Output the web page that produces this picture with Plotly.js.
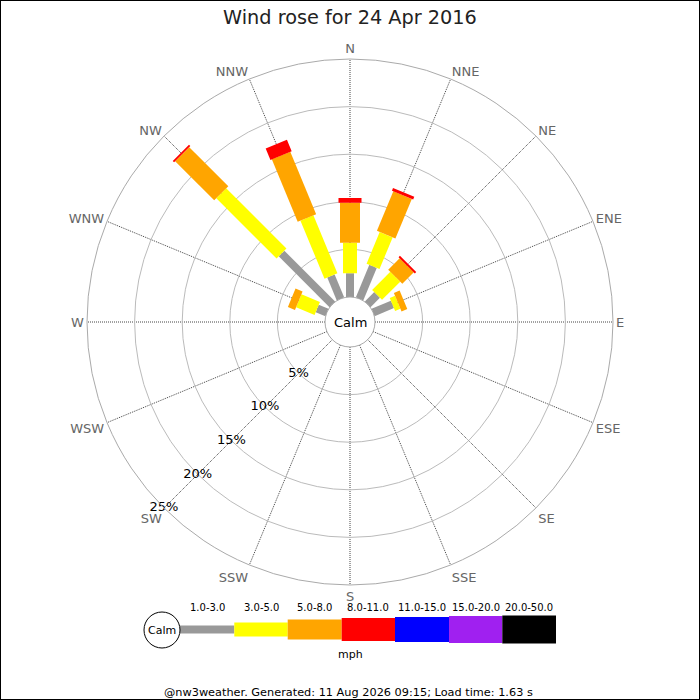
<!DOCTYPE html>
<html>
<head>
<meta charset="utf-8">
<script src="https://cdn.plot.ly/plotly-3.0.1.min.js"></script>
<style>html,body{margin:0;padding:0;background:#fff;}#chart{width:700px;height:700px;}</style>
</head>
<body>
<div id="chart"></div>
<script>
// ---- data ----
const directions = ["N","NNE","NE","ENE","E","ESE","SE","SSE","S","SSW","SW","WSW","W","WNW","NW","NNW"];
const directionAngles = [0,22.5,45,67.5,90,112.5,135,157.5,180,202.5,225,247.5,270,292.5,315,337.5];
const speedBins = ["1.0-3.0","3.0-5.0","5.0-8.0","8.0-11.0","11.0-15.0","15.0-20.0","20.0-50.0"];
// percent frequency per direction for each speed bin
const bin1to3   = [2.5, 3.7, 1.4, 2.2, 0,0,0,0,0,0,0,0,0, 1.1, 7.55, 2.6];
const bin3to5   = [3.2, 3.6, 2.7, 0.6, 0,0,0,0,0,0,0,0,0, 2.1, 8.95, 6.6];
const bin5to8   = [4.2, 4.5, 1.7, 0.65,0,0,0,0,0,0,0,0,0, 0.8, 5.8, 7.1];
const bin8to11  = [0.5, 0.3, 0.2, 0,   0,0,0,0,0,0,0,0,0, 0,   0.2, 1.3];
const bin11to15 = [0,0,0,0,0,0,0,0,0,0,0,0,0,0,0,0];
const bin15to20 = [0,0,0,0,0,0,0,0,0,0,0,0,0,0,0,0];
const bin20to50 = [0,0,0,0,0,0,0,0,0,0,0,0,0,0,0,0];
const radialTicks = [0,5,10,15,20,25];
const radialLabelValues = [5,10,15,20,25];
const radialLabelText = ["5%","10%","15%","20%","25%"];
const radialLabelDirection = 225; // SW

// ---- styles ----
const binSeries = [bin1to3,bin3to5,bin5to8,bin8to11,bin11to15,bin15to20,bin20to50];
const binColors = ["#999999","#ffff00","#ffa500","#ff0000","#0000ff","#a020f0","#000000"];
const binWidths = [8,14,20,23,25,27,28];

const traces = [];
const cum = directions.map(()=>0);
binSeries.forEach((vals,bi)=>{
  const r=[], th=[];
  vals.forEach((v,di)=>{
    if(v>0){
      r.push(cum[di], cum[di]+v, null);
      th.push(directionAngles[di], directionAngles[di], null);
      cum[di]+=v;
    }
  });
  if(r.length){
    traces.push({type:"scatterpolar",mode:"lines",r:r,theta:th,
      line:{color:binColors[bi],width:binWidths[bi]},
      connectgaps:false,hoverinfo:"skip",showlegend:false});
  }
});
// radial percentage labels along the SW spoke
traces.push({type:"scatterpolar",mode:"text",r:radialLabelValues,
  theta:radialLabelValues.map(()=>radialLabelDirection),text:radialLabelText,
  textposition:"middle center",textfont:{family:"DejaVu Sans",size:13,color:"#000"},
  cliponaxis:false,hoverinfo:"skip",showlegend:false});

const W=700,H=700;
const px=x=>x/W, py=y=>1-y/H;
const cx=350, cy=322, R=263;

const shapes=[], annotations=[];
const ann=(x,y,text,size)=>annotations.push({xref:"paper",yref:"paper",x:px(x),y:py(y),text:text,showarrow:false,
  xanchor:"center",yanchor:"middle",font:{family:"DejaVu Sans",size:size,color:"#000"}});
// border
shapes.push({type:"rect",xref:"paper",yref:"paper",x0:0,x1:1,y0:0,y1:1,line:{color:"#000",width:2},fillcolor:"rgba(0,0,0,0)"});
// legend
const legX=[180,234.3,287.7,341.7,395,449,502.3,556];
const legY=629.5;
speedBins.forEach((lab,i)=>{
  const h=binWidths[i];
  shapes.push({type:"rect",xref:"paper",yref:"paper",x0:px(legX[i]),x1:px(legX[i+1]),
    y0:py(legY+h/2),y1:py(legY-h/2),line:{width:0},fillcolor:binColors[i],layer:"above"});
  ann((legX[i]+legX[i+1])/2,607,lab,10);
});
shapes.push({type:"circle",xref:"paper",yref:"paper",x0:px(162-18),x1:px(162+18),y0:py(630+18),y1:py(630-18),
  line:{color:"#000",width:1},fillcolor:"#fff",layer:"above"});
ann(162,630,"Calm",11);
ann(350,654,"mph",11);
ann(350,322,"Calm",13);
ann(348,692,"@nw3weather. Generated: 11 Aug 2026 09:15; Load time: 1.63 s",11.3);

const layout={
  width:W,height:H,margin:{l:0,r:0,t:0,b:0},
  paper_bgcolor:"#fff",plot_bgcolor:"#fff",
  showlegend:false,
  title:{text:"Wind rose for 24 Apr 2016",x:0.5,xanchor:"center",y:py(17),yanchor:"middle",yref:"container",
    font:{family:"DejaVu Sans",size:19.3,color:"#222"}},
  polar:{
    domain:{x:[px(cx-R),px(cx+R)],y:[py(cy+R),py(cy-R)]},
    hole:25/263,
    bgcolor:"#fff",
    angularaxis:{rotation:90,direction:"clockwise",thetaunit:"degrees",
      tickmode:"array",tickvals:directionAngles,ticktext:directions,
      tickfont:{family:"DejaVu Sans",size:13,color:"#666"},ticks:"",
      showline:true,linecolor:"#aaa",linewidth:1,
      showgrid:true,gridcolor:"#444",gridwidth:1,griddash:"1px,1px"},
    radialaxis:{range:[0,25],angle:225,tickmode:"array",tickvals:radialTicks,
      showticklabels:false,ticks:"",showline:false,
      showgrid:true,gridcolor:"#bbb",gridwidth:1}
  },
  shapes:shapes,annotations:annotations
};
Plotly.newPlot("chart",traces,layout,{staticPlot:true,displayModeBar:false});
</script>
</body>
</html>
